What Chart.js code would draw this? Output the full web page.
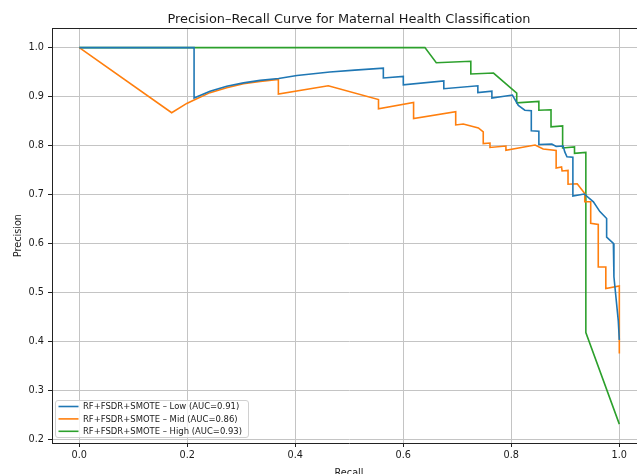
<!DOCTYPE html>
<html>
<head>
<meta charset="utf-8">
<script src="https://cdn.jsdelivr.net/npm/chart.js@4.4.0/dist/chart.umd.min.js"></script>
<style>
  html, body { margin: 0; padding: 0; background: #fff; width: 637px; height: 474px; overflow: hidden; }
  canvas { display: block; }
</style>
</head>
<body>
<canvas id="prChart" width="698" height="490"></canvas>
<script>
// === DATA ===
var CHART_TITLE = 'Precision\u2013Recall Curve for Maternal Health Classification';
var X_LABEL = 'Recall';
var Y_LABEL = 'Precision';
var X_TICKS = [0.0, 0.2, 0.4, 0.6, 0.8, 1.0];
var Y_TICKS = [0.2, 0.3, 0.4, 0.5, 0.6, 0.7, 0.8, 0.9, 1.0];
var SERIES_LABELS = [
  'RF+FSDR+SMOTE \u2013 Low (AUC=0.91)',
  'RF+FSDR+SMOTE \u2013 Mid (AUC=0.86)',
  'RF+FSDR+SMOTE \u2013 High (AUC=0.93)'
];
var SERIES_COLORS = ['#1f77b4', '#ff7f0e', '#2ca02c'];

var lowRecall = [0, 0.2125, 0.2125, 0.242, 0.273, 0.304, 0.335, 0.369, 0.403, 0.464, 0.510, 0.563, 0.563,
  0.600, 0.600, 0.675, 0.675, 0.738, 0.738, 0.764, 0.764, 0.802, 0.813, 0.825, 0.837, 0.837, 0.851, 0.851,
  0.875, 0.883, 0.896, 0.899, 0.903, 0.914, 0.914, 0.935, 0.952, 0.964, 0.9765, 0.9765, 0.989, 0.990,
  0.998, 1.0];
var lowPrecision = [1.0, 1.0, 0.897, 0.911, 0.921, 0.928, 0.933, 0.937, 0.943, 0.950, 0.954, 0.958, 0.938,
  0.941, 0.924, 0.932, 0.916, 0.922, 0.908, 0.911, 0.897, 0.903, 0.882, 0.872, 0.871, 0.830, 0.829, 0.802,
  0.803, 0.798, 0.799, 0.787, 0.777, 0.776, 0.697, 0.701, 0.685, 0.665, 0.651, 0.613, 0.600, 0.532,
  0.443, 0.403];

var midRecall = [0, 0.171, 0.199, 0.2125, 0.242, 0.273, 0.304, 0.335, 0.3686, 0.3686, 0.461, 0.554, 0.554,
  0.619, 0.619, 0.697, 0.697, 0.711, 0.739, 0.748, 0.748, 0.7605, 0.7605, 0.790, 0.790, 0.844, 0.859,
  0.883, 0.883, 0.893, 0.894, 0.905, 0.905, 0.922, 0.936, 0.936, 0.947, 0.947, 0.961, 0.961, 0.975,
  0.975, 1.0, 1.0];
var midPrecision = [1.0, 0.867, 0.886, 0.893, 0.908, 0.918, 0.926, 0.931, 0.935, 0.905, 0.922, 0.894, 0.875,
  0.888, 0.855, 0.869, 0.842, 0.844, 0.836, 0.828, 0.804, 0.805, 0.796, 0.799, 0.790, 0.801, 0.793,
  0.790, 0.754, 0.756, 0.748, 0.749, 0.721, 0.722, 0.702, 0.685, 0.685, 0.641, 0.639, 0.552, 0.552,
  0.508, 0.513, 0.375];

var highRecall = [0, 0.640, 0.661, 0.725, 0.725, 0.767, 0.810, 0.810, 0.851, 0.851, 0.8735, 0.8735, 0.895, 0.895,
  0.917, 0.917, 0.938, 0.938, 1.0];
var highPrecision = [1.0, 1.0, 0.969, 0.972, 0.946, 0.948, 0.907, 0.887, 0.890, 0.872, 0.873, 0.838, 0.840, 0.795,
  0.797, 0.784, 0.786, 0.418, 0.231];

function toPoints(xs, ys) {
  return xs.map(function(x, i) { return { x: x, y: ys[i] }; });
}

var FONT = 'DejaVu Sans';
var TEXT_COLOR = '#1a1a1a';

// Title centred over the (partly cropped) axes, plus the top spine
var frameAndTitle = {
  id: 'frameAndTitle',
  afterDatasetsDraw: function(chart) {
    var a = chart.chartArea, ctx = chart.ctx;
    ctx.save();
    ctx.strokeStyle = '#222';
    ctx.lineWidth = 1;
    ctx.beginPath();
    ctx.moveTo(a.left, Math.round(a.top) + 0.5);
    ctx.lineTo(a.right, Math.round(a.top) + 0.5);
    ctx.stroke();

    ctx.font = '12.9px "' + FONT + '"';
    ctx.fillStyle = TEXT_COLOR;
    ctx.textAlign = 'center';
    ctx.textBaseline = 'alphabetic';
    ctx.fillText(CHART_TITLE, (a.left + a.right) / 2, 22.5);
    ctx.restore();
  }
};

// Legend drawn inside the plot, lower left
var innerLegend = {
  id: 'innerLegend',
  afterDraw: function(chart) {
    var ctx = chart.ctx;
    var left = 55.5, top = 400.5, w = 193, h = 37, r = 2.5;
    ctx.save();
    ctx.beginPath();
    ctx.moveTo(left + r, top);
    ctx.lineTo(left + w - r, top);
    ctx.quadraticCurveTo(left + w, top, left + w, top + r);
    ctx.lineTo(left + w, top + h - r);
    ctx.quadraticCurveTo(left + w, top + h, left + w - r, top + h);
    ctx.lineTo(left + r, top + h);
    ctx.quadraticCurveTo(left, top + h, left, top + h - r);
    ctx.lineTo(left, top + r);
    ctx.quadraticCurveTo(left, top, left + r, top);
    ctx.closePath();
    ctx.fillStyle = 'rgba(255,255,255,0.8)';
    ctx.fill();
    ctx.strokeStyle = '#d0d0d0';
    ctx.lineWidth = 1;
    ctx.stroke();

    ctx.font = '8.45px "' + FONT + '"';
    ctx.textBaseline = 'middle';
    ctx.textAlign = 'left';
    chart.data.datasets.forEach(function(ds, i) {
      var y = 406.5 + i * 12.4;
      ctx.strokeStyle = ds.borderColor;
      ctx.lineWidth = 1.6;
      ctx.beginPath();
      ctx.moveTo(58.5, y);
      ctx.lineTo(78.5, y);
      ctx.stroke();
      ctx.fillStyle = TEXT_COLOR;
      ctx.fillText(ds.label, 83, y + 0.5);
    });
    ctx.restore();
  }
};

var datasets = [
  toPoints(lowRecall, lowPrecision),
  toPoints(midRecall, midPrecision),
  toPoints(highRecall, highPrecision)
].map(function(pts, i) {
  return {
    label: SERIES_LABELS[i],
    data: pts,
    borderColor: SERIES_COLORS[i],
    backgroundColor: SERIES_COLORS[i],
    borderWidth: 1.6,
    pointRadius: 0,
    tension: 0,
    fill: false
  };
});

new Chart(document.getElementById('prChart').getContext('2d'), {
  type: 'line',
  data: { datasets: datasets },
  plugins: [frameAndTitle, innerLegend],
  options: {
    responsive: false,
    animation: false,
    devicePixelRatio: 1,
    layout: { padding: { left: 0, right: 52, top: 28.3, bottom: 0 } },
    plugins: {
      legend: { display: false },
      tooltip: { enabled: false },
      title: { display: false }
    },
    scales: {
      x: {
        type: 'linear',
        min: -0.0506,
        max: 1.0494,
        afterBuildTicks: function(scale) {
          scale.ticks = X_TICKS.map(function(v) { return { value: v }; });
        },
        afterFit: function(scale) { scale.height = 47; },
        ticks: {
          color: TEXT_COLOR,
          font: { family: FONT, size: 9.7 },
          padding: 3,
          maxRotation: 0,
          callback: function(v) { return Number(v).toFixed(1); }
        },
        grid: { color: '#c4c4c4', lineWidth: 1, tickLength: 4, tickColor: '#222', tickWidth: 1 },
        border: { display: true, color: '#222', width: 1 },
        title: {
          display: true,
          text: X_LABEL,
          color: TEXT_COLOR,
          font: { family: FONT, size: 9.7, lineHeight: 1.2 },
          padding: { top: 0, bottom: 10.5 }
        }
      },
      y: {
        type: 'linear',
        min: 0.1924,
        max: 1.0394,
        afterBuildTicks: function(scale) {
          scale.ticks = Y_TICKS.map(function(v) { return { value: v }; });
        },
        afterFit: function(scale) { scale.width = 52; },
        ticks: {
          color: TEXT_COLOR,
          font: { family: FONT, size: 9.7 },
          padding: 4,
          callback: function(v) { return Number(v).toFixed(1); }
        },
        grid: { color: '#c4c4c4', lineWidth: 1, tickLength: 4, tickColor: '#222', tickWidth: 1 },
        border: { display: true, color: '#222', width: 1 },
        title: {
          display: true,
          text: Y_LABEL,
          color: TEXT_COLOR,
          font: { family: FONT, size: 9.7, lineHeight: 1.2 },
          padding: { top: 12.2, bottom: 0 }
        }
      }
    }
  }
});
</script>
</body>
</html>
